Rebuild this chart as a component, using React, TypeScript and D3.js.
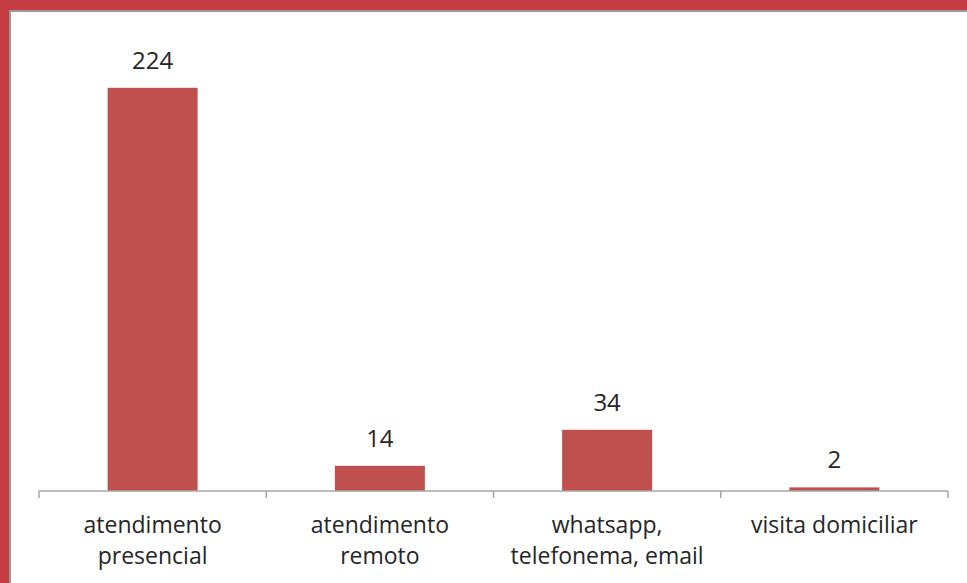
import React, { useEffect, useRef } from 'react';
import * as d3 from 'd3';

const categories = ['atendimento presencial', 'atendimento remoto', 'whatsapp, telefonema, email', 'visita domiciliar'];
const tickLabels = [
  ['atendimento', 'presencial'],
  ['atendimento', 'remoto'],
  ['whatsapp,', 'telefonema, email'],
  ['visita domiciliar'],
];
const values = [224, 14, 34, 2];

const App = () => {
  const ref = useRef<SVGSVGElement>(null);

  useEffect(() => {
    const width = 967;
    const height = 583;
    const svg = d3.select(ref.current);
    svg.selectAll('*').remove();

    // frame: red border on top/left with a thin grey shadow
    svg.append('rect').attr('width', width).attr('height', height).attr('fill', '#c53c43');
    svg.append('rect').attr('x', 9).attr('y', 10).attr('width', width - 9).attr('height', height - 10).attr('fill', '#9a9a9a');
    svg.append('rect').attr('x', 11).attr('y', 12).attr('width', width - 11).attr('height', height - 12).attr('fill', '#ffffff');

    const x = d3.scaleBand().domain(categories).range([39, 948]).paddingInner(0).paddingOuter(0);
    const y = d3.scaleLinear().domain([0, 250]).range([491, 41]);
    const barW = 90;

    const font = "'Open Sans', sans-serif";

    svg
      .append('g')
      .selectAll('rect')
      .data(values)
      .join('rect')
      .attr('x', (d, i) => x(categories[i])! + x.bandwidth() / 2 - barW / 2)
      .attr('y', d => y(d))
      .attr('width', barW)
      .attr('height', d => y(0) - y(d))
      .attr('fill', '#c0504d');

    svg
      .append('g')
      .selectAll('text')
      .data(values)
      .join('text')
      .attr('x', (d, i) => x(categories[i])! + x.bandwidth() / 2)
      .attr('y', d => y(d) - 19)
      .attr('text-anchor', 'middle')
      .attr('font-family', font)
      .attr('font-size', 24)
      .attr('fill', '#262626')
      .text(d => d);

    const axis = svg
      .append('g')
      .attr('transform', `translate(0,${y(0)})`)
      .call(d3.axisBottom(x).tickSize(0).tickFormat(() => ''));
    axis.select('.domain').attr('stroke', '#a6a6a6').attr('stroke-width', 1.5).attr('d', `M39,0H948`);
    axis.selectAll('.tick').remove();

    // tick marks at band boundaries
    const bounds = categories.map(c => x(c)!).concat([x.range()[1]]);
    svg
      .append('g')
      .selectAll('line')
      .data(bounds)
      .join('line')
      .attr('x1', d => d)
      .attr('x2', d => d)
      .attr('y1', y(0))
      .attr('y2', y(0) + 7)
      .attr('stroke', '#a6a6a6')
      .attr('stroke-width', 1.5);

    const lbl = svg
      .append('g')
      .selectAll('text')
      .data(tickLabels)
      .join('text')
      .attr('text-anchor', 'middle')
      .attr('font-family', font)
      .attr('font-size', 23)
      .attr('fill', '#262626');
    lbl.each(function (lines, i) {
      const cx = x(categories[i])! + x.bandwidth() / 2;
      d3.select(this)
        .selectAll('tspan')
        .data(lines)
        .join('tspan')
        .attr('x', cx)
        .attr('y', (d, j) => 533 + j * 31)
        .text(d => d);
    });
  }, []);

  return (
    <div style={{ position: 'fixed', left: 0, top: 0 }}>
      <svg ref={ref} width={967} height={583} style={{ display: 'block' }}></svg>
    </div>
  );
};

export default App;
